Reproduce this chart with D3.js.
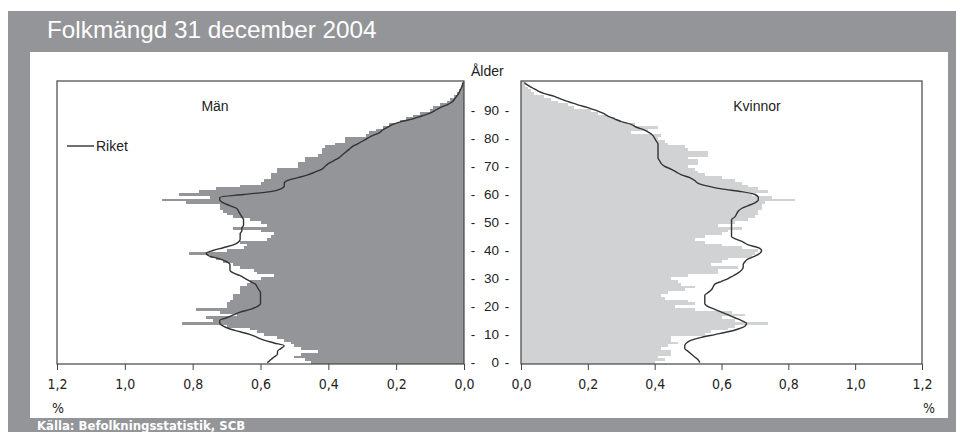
<!DOCTYPE html>
<html><head><meta charset="utf-8">
<script src="https://cdn.jsdelivr.net/npm/d3@7/dist/d3.min.js"></script>
<style>
html,body{margin:0;padding:0;background:#fff;}
svg{display:block;}
text{font-family:"Liberation Sans",Arial,sans-serif;}
.narrow{font-family:"Liberation Sans Narrow","Arial Narrow","DejaVu Sans Condensed",sans-serif;}
</style></head>
<body>
<svg id="c" width="960" height="432"></svg>
<script>
const ages = d3.range(0, 101);
const menBars = [0.45,0.47,0.50,0.48,0.43,0.48,0.50,0.51,0.53,0.55,
0.59,0.61,0.63,0.70,0.83,0.74,0.76,0.67,0.72,0.79,
0.70,0.70,0.69,0.68,0.68,0.66,0.66,0.66,0.64,0.63,
0.60,0.56,0.61,0.62,0.66,0.68,0.71,0.73,0.75,0.81,
0.70,0.65,0.64,0.66,0.58,0.57,0.56,0.60,0.68,0.58,
0.60,0.63,0.68,0.70,0.71,0.72,0.72,0.82,0.89,0.75,
0.84,0.78,0.73,0.66,0.60,0.59,0.57,0.57,0.55,0.55,
0.49,0.49,0.47,0.47,0.43,0.42,0.42,0.41,0.38,0.35,
0.35,0.29,0.28,0.26,0.24,0.22,0.19,0.17,0.15,0.13,
0.10,0.09,0.07,0.05,0.04,0.03,0.02,0.015,0.01,0.005,0.003];
const menRiket = [0.58,0.57,0.56,0.55,0.55,0.54,0.53,0.56,0.59,0.61,
0.63,0.66,0.69,0.71,0.72,0.72,0.70,0.68,0.66,0.63,
0.61,0.60,0.60,0.60,0.60,0.60,0.605,0.61,0.615,0.63,
0.645,0.66,0.68,0.69,0.69,0.69,0.70,0.72,0.75,0.76,
0.74,0.71,0.68,0.665,0.66,0.66,0.66,0.655,0.655,0.65,
0.65,0.65,0.655,0.66,0.665,0.67,0.69,0.71,0.72,0.72,
0.65,0.57,0.54,0.53,0.53,0.52,0.49,0.46,0.44,0.42,
0.41,0.40,0.385,0.37,0.36,0.35,0.34,0.33,0.315,0.30,
0.285,0.27,0.25,0.24,0.225,0.21,0.185,0.15,0.125,0.10,
0.085,0.07,0.05,0.035,0.028,0.022,0.016,0.012,0.008,0.005,0.003];
const womenBars = [0.40,0.43,0.41,0.45,0.45,0.42,0.44,0.47,0.45,0.45,
0.55,0.57,0.62,0.64,0.74,0.64,0.60,0.67,0.63,0.52,
0.46,0.52,0.50,0.43,0.42,0.44,0.49,0.52,0.48,0.47,
0.45,0.50,0.59,0.59,0.65,0.57,0.60,0.62,0.69,0.70,
0.71,0.66,0.60,0.55,0.52,0.55,0.60,0.62,0.66,0.59,
0.64,0.68,0.70,0.71,0.71,0.72,0.72,0.73,0.82,0.75,
0.69,0.74,0.71,0.68,0.66,0.64,0.60,0.55,0.53,0.52,
0.50,0.53,0.53,0.50,0.56,0.56,0.50,0.49,0.44,0.43,
0.41,0.42,0.33,0.38,0.41,0.34,0.30,0.28,0.26,0.23,
0.21,0.16,0.14,0.11,0.09,0.07,0.04,0.03,0.02,0.012,0.008];
const womenRiket = [0.535,0.53,0.52,0.51,0.50,0.49,0.49,0.495,0.51,0.54,
0.58,0.62,0.65,0.67,0.675,0.66,0.64,0.62,0.60,0.58,
0.56,0.55,0.55,0.55,0.55,0.56,0.57,0.575,0.58,0.60,
0.62,0.635,0.65,0.66,0.665,0.665,0.67,0.68,0.70,0.715,
0.72,0.71,0.68,0.665,0.645,0.63,0.63,0.63,0.63,0.63,
0.63,0.63,0.64,0.645,0.65,0.66,0.68,0.70,0.71,0.71,
0.70,0.66,0.60,0.56,0.53,0.52,0.505,0.48,0.465,0.45,
0.43,0.42,0.415,0.41,0.41,0.41,0.41,0.41,0.41,0.405,
0.40,0.395,0.385,0.37,0.345,0.33,0.30,0.28,0.26,0.245,
0.225,0.20,0.17,0.145,0.12,0.10,0.07,0.05,0.035,0.02,0.01];
const xTicks = [0, 0.2, 0.4, 0.6, 0.8, 1.0, 1.2];
const xTickLabels = ["0,0","0,2","0,4","0,6","0,8","1,0","1,2"];
const ageTicks = [0,10,20,30,40,50,60,70,80,90];

const svg = d3.select("#c");
// frame
svg.append("rect").attr("x",8).attr("y",11).attr("width",948).attr("height",421).attr("fill","#939598");
svg.append("rect").attr("x",30).attr("y",52).attr("width",918).attr("height",366).attr("fill","#fff");
svg.append("text").attr("x",47).attr("y",38).attr("fill","#fff").attr("font-size",24.3).text("Folkmängd 31 december 2004");
svg.append("text").attr("class","narrow").attr("x",37).attr("y",430).attr("fill","#fff").attr("font-size",13).attr("font-weight","bold").text("Källa: Befolkningsstatistik, SCB");

const y = d3.scaleLinear().domain([-0.5, 100.5]).range([364, 81]);
const xL = d3.scaleLinear().domain([0, 1.2]).range([464, 57]);
const xR = d3.scaleLinear().domain([0, 1.2]).range([521, 922]);

function panel(xs, bars, riket, fill) {
  const g = svg.append("g");
  g.selectAll("rect.bar").data(ages).join("rect").attr("class","bar")
    .attr("x", a => Math.min(xs(0), xs(bars[a])))
    .attr("width", a => Math.abs(xs(bars[a]) - xs(0)))
    .attr("y", a => y(a + 0.5))
    .attr("height", a => y(a - 0.5) - y(a + 0.5))
    .attr("fill", fill).attr("shape-rendering","crispEdges");
  const line = d3.line().x(a => xs(riket[a])).y(a => y(a)).curve(d3.curveMonotoneY);
  g.append("path").datum(ages).attr("d", line).attr("fill","none").attr("stroke","#333").attr("stroke-width",1.4);
  const x0 = Math.min(xs.range()[0], xs.range()[1]);
  const x1 = Math.max(xs.range()[0], xs.range()[1]);
  g.append("rect").attr("x", x0).attr("y", y(100.5)).attr("width", x1 - x0).attr("height", y(-0.5) - y(100.5))
    .attr("fill","none").attr("stroke","#444").attr("stroke-width",1.2);
  const ax = g.append("g").attr("transform",`translate(0,${y(-0.5)})`)
    .call(d3.axisBottom(xs).tickValues(xTicks).tickSize(6).tickFormat((d,i) => xTickLabels[i]));
  ax.select(".domain").remove();
  ax.selectAll("line").attr("stroke","#444");
  ax.selectAll("text").attr("class","narrow").attr("y",15).attr("font-size",14).attr("fill","#222");
}
panel(xL, menBars, menRiket, "#939598");
panel(xR, womenBars, womenRiket, "#d1d2d4");

// center age labels
const ca = svg.append("g").attr("font-size",13.5).attr("fill","#222");
ageTicks.forEach(a => {
  ca.append("text").attr("x",473).attr("y",y(a)).attr("dy","0.35em").attr("text-anchor","middle").text("-");
  ca.append("text").attr("x",499).attr("y",y(a)).attr("dy","0.35em").attr("text-anchor","end").text(a);
  ca.append("text").attr("x",507).attr("y",y(a)).attr("dy","0.35em").attr("text-anchor","middle").text("-");
});
svg.append("text").attr("x",471).attr("y",76).attr("font-size",14).attr("fill","#222").text("Ålder");

// panel titles
svg.append("text").attr("x",215).attr("y",111).attr("text-anchor","middle").attr("font-size",14).attr("fill","#222").text("Män");
svg.append("text").attr("x",757).attr("y",111).attr("text-anchor","middle").attr("font-size",14).attr("fill","#222").text("Kvinnor");

// legend
svg.append("line").attr("x1",67).attr("x2",94).attr("y1",146).attr("y2",146).attr("stroke","#333").attr("stroke-width",1.4);
svg.append("text").attr("x",96).attr("y",146).attr("dy","0.35em").attr("font-size",14).attr("fill","#222").text("Riket");

// percent labels
svg.append("text").attr("class","narrow").attr("x",52).attr("y",413).attr("font-size",14).attr("fill","#222").text("%");
svg.append("text").attr("class","narrow").attr("x",923).attr("y",413).attr("font-size",14).attr("fill","#222").text("%");
</script>
</body></html>
